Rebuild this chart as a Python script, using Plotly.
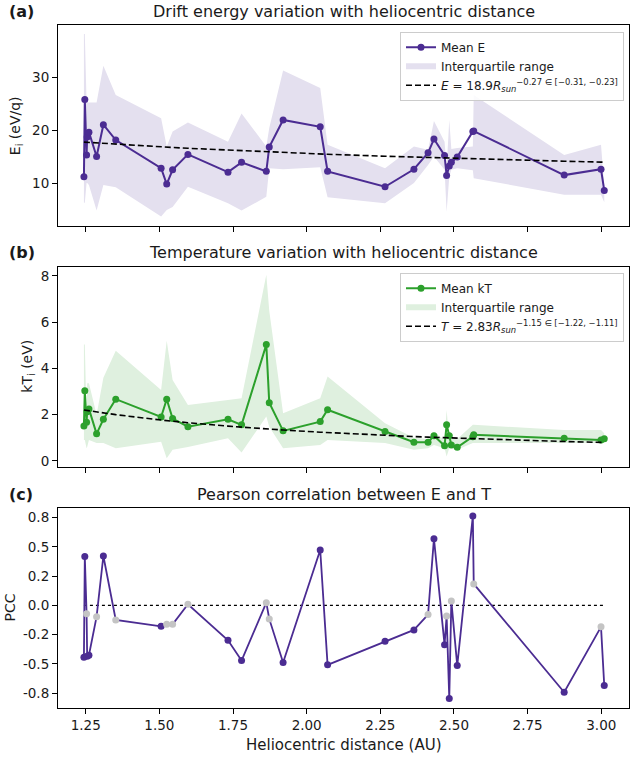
import plotly.graph_objects as go

# ---------------- data ----------------
dist = [1.244, 1.247, 1.253, 1.255, 1.261, 1.287, 1.310, 1.352, 1.506, 1.525, 1.545,
        1.597, 1.733, 1.779, 1.863, 1.873, 1.920, 2.046, 2.071, 2.266, 2.364, 2.412,
        2.432, 2.468, 2.475, 2.484, 2.491, 2.511, 2.564, 2.567, 2.874, 2.999, 3.010]

e_mean = [11.3, 25.85, 15.4, 18.8, 19.7, 15.1, 21.1, 18.2, 12.9, 9.9, 12.6,
          15.5, 12.15, 14.0, 12.3, 16.9, 22.0, 20.7, 12.3, 9.4, 12.7, 15.8,
          18.4, 15.3, 11.5, 13.3, 14.0, 15.0, 19.8, 19.9, 11.6, 12.7, 8.7]
e_q1 = [6.4, 6.4, 10.1, 10.1, 9.75, 4.9, 9.75, 9.3, 3.8, 5.0, 5.6,
        9.4, 6.3, 4.9, 7.5, 12.9, 12.7, 13.1, 7.4, 6.3, 10.1, 13.5,
        15.1, 12.6, 4.7, 11.3, 12.6, 12.9, 12.5, 11.0, 7.9, 7.9, 6.5]
e_q3 = [38.2, 38.2, 25.3, 25.3, 25.3, 25.3, 32.2, 26.7, 22.3, 17.0, 19.8,
        21.5, 17.9, 23.2, 17.0, 20.5, 31.3, 28.0, 17.3, 12.9, 17.0, 16.4,
        21.8, 17.9, 13.0, 22.0, 16.5, 16.7, 17.0, 26.7, 15.4, 17.3, 9.5]

kt_mean = [1.51, 3.03, 1.67, 2.13, 2.25, 1.17, 1.80, 2.67, 1.90, 2.67, 1.83,
           1.48, 1.80, 1.56, 5.03, 2.52, 1.30, 1.70, 2.21, 1.27, 0.81, 0.81,
           1.09, 0.66, 1.56, 1.09, 0.69, 0.59, 1.05, 1.13, 0.98, 0.91, 0.96]
kt_q1 = [0.91, 0.91, 0.55, 0.6, 0.9, 0.77, 0.77, 0.55, 0.83, 0.12, 0.48,
         0.6, 0.98, 0.36, 1.92, 1.48, 0.55, 0.69, 0.91, 0.77, 0.48, 0.55,
         0.69, 0.55, 0.19, 0.55, 0.55, 0.48, 0.77, 0.77, 0.77, 0.77, 0.77]
kt_q3 = [5.03, 5.03, 1.9, 3.36, 3.36, 2.0, 3.6, 4.77, 3.07, 5.2, 3.5,
         2.42, 2.64, 2.71, 8.05, 6.5, 2.06, 2.71, 3.65, 1.63, 1.0, 0.95,
         1.25, 0.9, 2.2, 0.9, 0.95, 0.95, 1.56, 1.56, 1.34, 1.34, 1.2]

pcc = [-0.444, 0.418, -0.071, -0.435, -0.427, -0.097, 0.422, -0.125, -0.179, -0.162, -0.162,
       0.009, -0.299, -0.472, 0.023, -0.116, -0.489, 0.473, -0.509, -0.307, -0.210, -0.079,
       0.570, -0.338, -0.091, -0.797, 0.038, -0.515, 0.763, 0.183, -0.743, -0.184, -0.686]
significant = [True, True, False, True, True, False, True, False, True, False, False,
               False, True, True, False, False, True, True, True, True, True, False,
               True, True, False, True, False, True, True, False, True, False, True]

# power-law fits  y = A * R^B
e_fit_a, e_fit_b = 18.9, -0.27
t_fit_a, t_fit_b = 2.83, -1.15

x_ticks = [1.25, 1.50, 1.75, 2.00, 2.25, 2.50, 2.75, 3.00]
pcc_ticks = [-0.75, -0.5, -0.25, 0.0, 0.25, 0.5, 0.75]
pcc_tick_text = ["-0.8", "-0.5", "-0.2", "0.0", "0.2", "0.5", "0.8"]

# ---------------- style ----------------
FONT = "DejaVu Sans"
PURPLE = "#4b2c92"
GREEN = "#2ca02c"
GRAY = "#c4c4c4"
PURPLE_FILL = "#e4e0ef"
GREEN_FILL = "#dff0df"

fig = go.Figure()


def band(x, lo, hi):
    return list(x) + list(x)[::-1], list(hi) + list(lo)[::-1]


# ---- panel (a)
bx, by = band(dist, e_q1, e_q3)
fig.add_trace(go.Scatter(x=bx, y=by, fill="toself", fillcolor=PURPLE_FILL, mode="none",
                         line=dict(width=0), name="Interquartile range", legend="legend",
                         legendrank=2, xaxis="x", yaxis="y", hoverinfo="skip"))
fig.add_trace(go.Scatter(x=dist, y=e_mean, mode="lines+markers", name="Mean E",
                         line=dict(color=PURPLE, width=2), marker=dict(color=PURPLE, size=7),
                         legend="legend", legendrank=1, xaxis="x", yaxis="y"))
fig.add_trace(go.Scatter(x=dist, y=[e_fit_a * r ** e_fit_b for r in dist], mode="lines",
                         line=dict(color="black", width=1.6, dash="6px,3px"),
                         name="<i>E</i> = 18.9<i>R</i><sub><i>sun</i></sub><sup>−0.27 ∈ [−0.31, −0.23]</sup>",
                         legend="legend", legendrank=3, xaxis="x", yaxis="y"))

# ---- panel (b)
bx, by = band(dist, kt_q1, kt_q3)
fig.add_trace(go.Scatter(x=bx, y=by, fill="toself", fillcolor=GREEN_FILL, mode="none",
                         line=dict(width=0), name="Interquartile range", legend="legend2",
                         legendrank=2, xaxis="x2", yaxis="y2", hoverinfo="skip"))
fig.add_trace(go.Scatter(x=dist, y=kt_mean, mode="lines+markers", name="Mean kT",
                         line=dict(color=GREEN, width=2), marker=dict(color=GREEN, size=7),
                         legend="legend2", legendrank=1, xaxis="x2", yaxis="y2"))
fig.add_trace(go.Scatter(x=dist, y=[t_fit_a * r ** t_fit_b for r in dist], mode="lines",
                         line=dict(color="black", width=1.6, dash="6px,3px"),
                         name="<i>T</i> = 2.83<i>R</i><sub><i>sun</i></sub><sup>−1.15 ∈ [−1.22, −1.11]</sup>",
                         legend="legend2", legendrank=3, xaxis="x2", yaxis="y2"))

# ---- panel (c)
fig.add_trace(go.Scatter(x=[min(dist), max(dist)], y=[0, 0], mode="lines",
                         line=dict(color="black", width=1.3, dash="dot"),
                         showlegend=False, xaxis="x3", yaxis="y3"))
fig.add_trace(go.Scatter(x=dist, y=pcc, mode="lines", line=dict(color=PURPLE, width=1.8),
                         showlegend=False, xaxis="x3", yaxis="y3"))
fig.add_trace(go.Scatter(x=[d for d, s in zip(dist, significant) if s],
                         y=[p for p, s in zip(pcc, significant) if s], mode="markers",
                         marker=dict(color=PURPLE, size=7), showlegend=False,
                         xaxis="x3", yaxis="y3"))
fig.add_trace(go.Scatter(x=[d for d, s in zip(dist, significant) if not s],
                         y=[p for p, s in zip(pcc, significant) if not s], mode="markers",
                         marker=dict(color=GRAY, size=7), showlegend=False,
                         xaxis="x3", yaxis="y3"))

# ---------------- layout ----------------
L, R, T, B = 58, 1, 25, 50
W, H = 630, 758
ph = H - T - B
pw = W - L - R


def py(pix):  # pixel row -> paper y
    return (H - B - pix) / ph


def px(pix):  # pixel column -> paper x
    return (pix - L) / pw


axis_common = dict(showline=True, linecolor="black", linewidth=1.1, mirror=True,
                   ticks="outside", ticklen=5, tickwidth=1.1, tickcolor="black",
                   showgrid=False, zeroline=False, automargin=False,
                   tickfont=dict(family=FONT, size=13.5, color="#1a1a1a"))
xr = [1.156, 3.094]

legend_common = dict(xanchor="right", yanchor="top",
                     bgcolor="rgba(255,255,255,0.85)", bordercolor="#cccccc", borderwidth=1,
                     font=dict(family=FONT, size=12, color="#1a1a1a"), tracegroupgap=0,
                     itemwidth=30)

layout = dict(
    width=W, height=H, margin=dict(l=L, r=R, t=T, b=B, autoexpand=False),
    paper_bgcolor="white", plot_bgcolor="white",
    font=dict(family=FONT, color="#1a1a1a"),
    xaxis=dict(axis_common, domain=[0, 1], anchor="y", range=xr, tickvals=x_ticks,
               showticklabels=False),
    yaxis=dict(axis_common, domain=[py(226), 1], anchor="x", range=[2.0, 39.9],
               tickvals=[10, 20, 30]),
    xaxis2=dict(axis_common, domain=[0, 1], anchor="y2", range=xr, tickvals=x_ticks,
                showticklabels=False),
    yaxis2=dict(axis_common, domain=[py(466.7), py(266.7)], anchor="x2",
                range=[-0.25, 8.4], tickvals=[0, 2, 4, 6, 8]),
    xaxis3=dict(axis_common, domain=[0, 1], anchor="y3", range=xr, tickvals=x_ticks,
                ticktext=[f"{v:.2f}" for v in x_ticks]),
    yaxis3=dict(axis_common, domain=[0, py(507.7)], anchor="x3",
                range=[-0.878, 0.835], tickvals=pcc_ticks, ticktext=pcc_tick_text),
    legend=dict(legend_common, x=px(624), y=py(31.7)),
    legend2=dict(legend_common, x=px(624), y=py(272.7)),
    showlegend=True,
)
fig.update_layout(layout)

title_font = dict(family=FONT, size=16, color="#1a1a1a")
annotations = [
    dict(text="Drift energy variation with heliocentric distance", x=0.5, y=py(12)),
    dict(text="Temperature variation with heliocentric distance", x=0.5, y=py(252)),
    dict(text="Pearson correlation between E and T", x=0.5, y=py(494)),
]
for a in annotations:
    fig.add_annotation(xref="paper", yref="paper", showarrow=False, xanchor="center",
                       yanchor="middle", font=title_font, **a)
for lab, yy in [("(a)", 12), ("(b)", 252), ("(c)", 494)]:
    fig.add_annotation(xref="paper", yref="paper", showarrow=False, xanchor="left",
                       yanchor="middle", x=px(7), y=py(yy), text=f"<b>{lab}</b>",
                       font=title_font)

label_font = dict(family=FONT, size=14, color="#1a1a1a")
for txt, xx, yy in [("E<sub>i</sub> (eV/q)", 16.7, 125.5), ("kT<sub>i</sub> (eV)", 28, 366.7),
                    ("PCC", 9.5, 608)]:
    fig.add_annotation(xref="paper", yref="paper", showarrow=False, xanchor="center",
                       yanchor="middle", x=px(xx), y=py(yy), text=txt, textangle=-90,
                       font=label_font)
fig.add_annotation(xref="paper", yref="paper", showarrow=False, xanchor="center",
                   yanchor="middle", x=0.5, y=py(745), text="Heliocentric distance (AU)",
                   font=dict(family=FONT, size=15, color="#1a1a1a"))

fig.write_html("out.html", config={"displayModeBar": False},
               post_script="document.body.style.margin='0';document.body.style.overflow='hidden';")
